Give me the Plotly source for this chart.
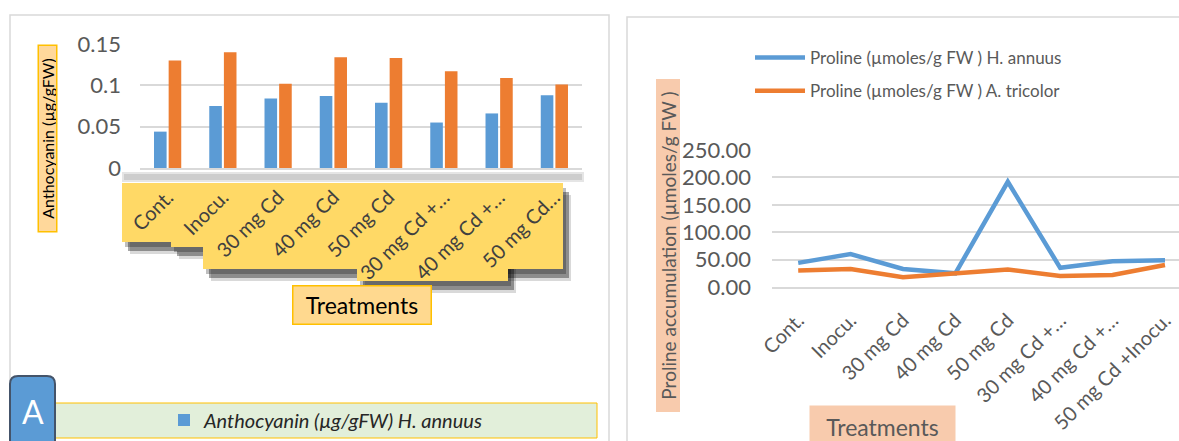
import plotly.graph_objects as go

W, H = 1179, 441
FONT = "Lato"
GRAY = "#595959"


def px(x):
    return x / W


def py(y):
    return 1 - y / H


# ---------------- data ----------------
categories = ["Cont.", "Inocu.", "30 mg Cd", "40 mg Cd", "50 mg Cd",
              "30 mg Cd + Inocu.", "40 mg Cd + Inocu.", "50 mg Cd +Inocu."]
left_tick_labels = ["Cont.", "Inocu.", "30 mg Cd", "40 mg Cd", "50 mg Cd",
                    "30 mg Cd +…", "40 mg Cd +…", "50 mg Cd…"]
right_tick_labels = ["Cont.", "Inocu.", "30 mg Cd", "40 mg Cd", "50 mg Cd",
                     "30 mg Cd +…", "40 mg Cd +…", "50 mg Cd +Inocu."]
anthocyanin_h_annuus = [0.044, 0.075, 0.084, 0.087, 0.079, 0.055, 0.066, 0.088]
anthocyanin_a_tricolor = [0.130, 0.140, 0.102, 0.134, 0.133, 0.117, 0.109, 0.101]
proline_h_annuus = [44, 60, 33, 25, 192, 35, 47, 49]
proline_a_tricolor = [30, 33, 18, 26, 32, 20, 22, 40]
left_y_ticks = [0, 0.05, 0.1, 0.15]
right_y_ticks = [0, 50, 100, 150, 200, 250]

BLUE = "#5B9BD5"
ORANGE = "#ED7D31"

fig = go.Figure()

fig.add_trace(go.Bar(x=categories, y=anthocyanin_h_annuus, name="Anthocyanin (µg/gFW) H. annuus",
                     marker=dict(color=BLUE, line=dict(width=0)), xaxis="x", yaxis="y",
                     legend="legend"))
fig.add_trace(go.Bar(x=categories, y=anthocyanin_a_tricolor, name="Anthocyanin (µg/gFW) A. tricolor",
                     marker=dict(color=ORANGE, line=dict(width=0)), xaxis="x", yaxis="y",
                     showlegend=False))
fig.add_trace(go.Scatter(x=categories, y=proline_h_annuus, mode="lines",
                         name="Proline (µmoles/g FW ) H. annuus",
                         line=dict(color=BLUE, width=4.5), xaxis="x2", yaxis="y2",
                         legend="legend2", legendgroup="a"))
fig.add_trace(go.Scatter(x=categories, y=proline_a_tricolor, mode="lines",
                         name="Proline (µmoles/g FW ) A. tricolor",
                         line=dict(color=ORANGE, width=4.5), xaxis="x2", yaxis="y2",
                         legend="legend2", legendgroup="b"))

# ---------------- decorations (pixel layout) ----------------
shapes = []
# panel borders
shapes.append(dict(type="rect", xref="paper", yref="paper", x0=px(10), x1=px(609),
                   y0=-0.01, y1=py(15), line=dict(color="#D9D9D9", width=1.5),
                   fillcolor="rgba(0,0,0,0)", layer="below"))
shapes.append(dict(type="rect", xref="paper", yref="paper", x0=px(627), x1=1.01,
                   y0=-0.01, y1=py(17), line=dict(color="#D9D9D9", width=1.5),
                   fillcolor="rgba(0,0,0,0)", layer="below"))
# shadow under left category axis
shapes.append(dict(type="rect", xref="paper", yref="paper", x0=px(122), x1=px(584),
                   y0=py(182), y1=py(172), line=dict(width=0),
                   fillcolor="rgba(0,0,0,0.10)", layer="below"))
shapes.append(dict(type="rect", xref="paper", yref="paper", x0=px(124), x1=px(582),
                   y0=py(180), y1=py(174), line=dict(width=0),
                   fillcolor="rgba(0,0,0,0.10)", layer="below"))

LABEL_BOXES = [(122, 171, 183, 242), (171, 203, 183, 247), (203, 258, 183, 269),
               (258, 313, 183, 269), (313, 357, 183, 269), (357, 412, 183, 281),
               (412, 508, 183, 281), (478, 563, 183, 269)]
for (x0, x1, y0, y1) in LABEL_BOXES:
    for (dx, dy, a) in [(3, 5, 0.25), (6, 9, 0.35), (8, 12, 0.15)]:
        shapes.append(dict(type="rect", xref="paper", yref="paper", x0=px(x0 + dx), x1=px(x1 + dx),
                           y0=py(y1 + dy), y1=py(y0 + dy), line=dict(width=0),
                           fillcolor=f"rgba(0,0,0,{a})", layer="below"))
for (x0, x1, y0, y1) in LABEL_BOXES:
    shapes.append(dict(type="rect", xref="paper", yref="paper", x0=px(x0), x1=px(x1),
                       y0=py(y1), y1=py(y0), line=dict(width=0),
                       fillcolor="#FFD966", layer="below"))

# left legend box
shapes.append(dict(type="rect", xref="paper", yref="paper", x0=px(55), x1=px(597),
                   y0=py(438), y1=py(403), line=dict(color="#FFC000", width=1),
                   fillcolor="#E2EFDA", layer="below"))
# "A" badge
shapes.append(dict(type="path", xref="paper", yref="paper",
                   path=(f"M {px(10)},{py(443)} L {px(10)},{py(384)} Q {px(10)},{py(376)} {px(18)},{py(376)} "
                         f"L {px(47)},{py(376)} Q {px(55)},{py(376)} {px(55)},{py(384)} L {px(55)},{py(443)} Z"),
                   line=dict(color="#44546A", width=2), fillcolor=BLUE, layer="above"))

annotations = [
    dict(text="A", x=px(33), y=py(411), xref="paper", yref="paper", showarrow=False,
         xanchor="center", yanchor="middle",
         font=dict(family=FONT, size=32, color="white")),
    dict(text="Anthocyanin (µg/gFW)", x=px(47), y=py(138.5), xref="paper", yref="paper",
         xanchor="center", yanchor="middle",
         showarrow=False, textangle=-90, width=185, height=17,
         bgcolor="#FFD89B", bordercolor="#FFC000", borderwidth=1.5, borderpad=0,
         font=dict(family=FONT, size=16, color="black")),
    dict(text="Treatments", x=px(361.5), y=py(305), xref="paper", yref="paper",
         xanchor="center", yanchor="middle",
         showarrow=False, width=137, height=37,
         bgcolor="#FFD98F", bordercolor="#FFC000", borderwidth=1.5, borderpad=0,
         font=dict(family=FONT, size=23, color="black")),
    dict(text="Proline accumulation (µmoles/g FW )", x=px(668.5), y=py(246), xref="paper",
         yref="paper", xanchor="center", yanchor="middle",
         showarrow=False, textangle=-90, width=332, height=23,
         bgcolor="#F8CBAD", borderpad=0, font=dict(family=FONT, size=19, color=GRAY)),
    dict(text="Treatments", x=px(882.5), y=py(405), xref="paper", yref="paper",
         xanchor="center", yanchor="top", showarrow=False, width=145, height=42,
         bgcolor="#F8CBAD", borderpad=0, font=dict(family=FONT, size=23, color=GRAY)),
]

fig.update_layout(
    width=W, height=H,
    margin=dict(l=0, r=0, t=0, b=0, pad=0, autoexpand=False),
    paper_bgcolor="white", plot_bgcolor="rgba(0,0,0,0)",
    font=dict(family=FONT, color=GRAY),
    barmode="group", bargap=0.47, bargroupgap=0.14,
    xaxis=dict(domain=[px(140), px(582)], anchor="y", tickmode="array",
               tickvals=categories, ticktext=left_tick_labels, tickangle=-45,
               tickfont=dict(family=FONT, size=20, color="#404040"),
               showline=True, linecolor="#D9D9D9", linewidth=1.5, showgrid=False,
               ticks="", ticklabelstandoff=8, automargin=False),
    yaxis=dict(domain=[py(168), py(44)], anchor="x", range=[0, 0.15],
               tickmode="array", tickvals=left_y_ticks, ticktext=["0", "0.05", "0.1", "0.15"],
               tickfont=dict(family=FONT, size=22, color=GRAY), showgrid=True,
               gridcolor="#D9D9D9", gridwidth=1.5, zeroline=False, showline=False,
               ticks="", ticklabelstandoff=18, automargin=False),
    xaxis2=dict(domain=[px(772), 1.0], anchor="y2", range=[-0.5, -0.5 + (W - 772) / 52.4],
                tickmode="array", tickvals=categories, ticktext=right_tick_labels,
                tickangle=-45, tickfont=dict(family=FONT, size=20, color=GRAY),
                showline=True, linecolor="#D9D9D9", linewidth=1.5, showgrid=False,
                ticks="", ticklabelstandoff=12, automargin=False),
    yaxis2=dict(domain=[py(287), py(150)], anchor="x2", range=[0, 250],
                tickmode="array", tickvals=right_y_ticks,
                ticktext=[f"{v:.2f}" for v in right_y_ticks],
                tickfont=dict(family=FONT, size=22, color=GRAY), showgrid=True,
                gridcolor="#D9D9D9", gridwidth=1.5, zeroline=False, ticks="",
                ticklabelstandoff=20, automargin=False),
    legend=dict(x=px(326), y=py(420), xanchor="center", yanchor="middle",
                bgcolor="rgba(0,0,0,0)", font=dict(family=FONT, size=20, color="#262626",
                                                   style="italic")),
    legend2=dict(x=px(750), y=py(40), xanchor="left", yanchor="top",
                 bgcolor="rgba(0,0,0,0)", font=dict(family=FONT, size=17, color=GRAY),
                 tracegroupgap=8, itemwidth=50),
    shapes=shapes,
    annotations=annotations,
)

fig.write_html("out.html")
